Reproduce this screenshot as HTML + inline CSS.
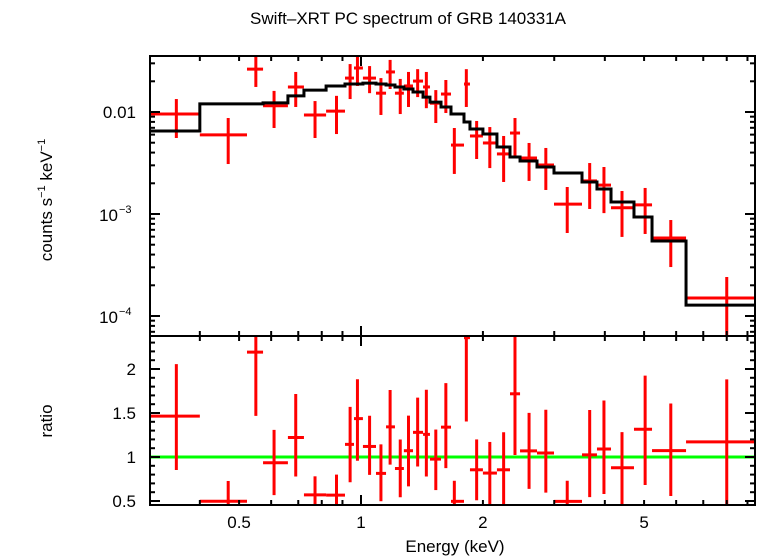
<!DOCTYPE html>
<html><head><meta charset="utf-8"><style>
html,body{margin:0;padding:0;background:#fff;}
svg{display:block;font-family:"Liberation Sans",sans-serif;}
</style></head><body>
<svg id="c" width="758" height="556" xmlns="http://www.w3.org/2000/svg">
<text x="408" y="24" font-size="17" text-anchor="middle">Swift–XRT PC spectrum of GRB 140331A</text>
<text x="455" y="552" font-size="17" text-anchor="middle">Energy (keV)</text>
<text transform="translate(52,200) rotate(-90)" font-size="17" text-anchor="middle">counts s<tspan font-size="11" dy="-7">−1</tspan><tspan dy="7"> keV</tspan><tspan font-size="11" dy="-7">−1</tspan></text>
<text transform="translate(52,421) rotate(-90)" font-size="17" text-anchor="middle">ratio</text>
</svg>
<script>
const edges=[0.298,0.400,0.523,0.573,0.660,0.723,0.820,0.913,0.961,1.011,1.089,1.153,1.213,1.276,1.344,1.423,1.480,1.576,1.668,1.796,1.858,2.000,2.166,2.333,2.470,2.720,2.996,3.513,3.825,4.143,4.721,5.231,6.347,10.0];
const centers=[0.35,0.47,0.55,0.61,0.69,0.77,0.87,0.94,0.98,1.05,1.12,1.18,1.25,1.31,1.38,1.45,1.53,1.62,1.70,1.82,1.93,2.08,2.25,2.40,2.60,2.86,3.23,3.67,3.98,4.41,5.03,5.82,8.0];
const flux=[0.00955,0.00596,0.0263,0.0115,0.0176,0.00935,0.0102,0.0215,0.027,0.0215,0.0153,0.0247,0.0153,0.018,0.0201,0.0176,0.0122,0.0150,0.00474,0.0188,0.00582,0.00497,0.00388,0.00622,0.00354,0.00302,0.00125,0.00211,0.00192,0.00115,0.00123,0.000582,0.00015];
const fluxLo=[0.00556,0.00309,0.0176,0.00697,0.0112,0.00556,0.00608,0.0134,0.018,0.0153,0.00935,0.0168,0.00955,0.0112,0.0140,0.0109,0.0078,0.00978,0.00247,0.0112,0.00346,0.00282,0.00206,0.0037,0.00211,0.00172,0.000651,0.00112,0.00102,0.000596,0.000637,0.000302,0.00003];
const fluxHi=[0.0134,0.00873,0.0354,0.0161,0.0247,0.0128,0.0144,0.0295,0.0354,0.0282,0.0215,0.0324,0.0211,0.0247,0.0263,0.0247,0.0164,0.0206,0.00697,0.0263,0.00817,0.00712,0.00582,0.00873,0.00497,0.00444,0.00184,0.00316,0.00289,0.00168,0.0018,0.000873,0.000241];
const model=[0.00652,0.0120,0.0120,0.0123,0.0144,0.0164,0.018,0.0188,0.0188,0.0192,0.0188,0.0184,0.0176,0.0168,0.0157,0.0140,0.0125,0.0112,0.00955,0.00798,0.00681,0.00608,0.00454,0.00362,0.00331,0.00289,0.00252,0.00206,0.00176,0.00131,0.000935,0.000543,0.000128];
const xLabels=[0.5,1,2,5];
const ratioLabels=[0.5,1,1.5,2];

const NS="http://www.w3.org/2000/svg";
const svg=document.getElementById('c');
const L=150,R=755,T1=56,B1=336,B2=505;
const X=e=>361+405*Math.log10(e);
const Y1=f=>112-102*(Math.log10(f)+2);
const Y2=r=>457-88*(r-1);
function el(tag,attrs,parent){const e=document.createElementNS(NS,tag);for(const k in attrs)e.setAttribute(k,attrs[k]);(parent||svg).appendChild(e);return e;}
const defs=el('defs',{});
const c1=el('clipPath',{id:'cp1'},defs);el('rect',{x:L,y:T1,width:R-L,height:B1-T1},c1);
const c2=el('clipPath',{id:'cp2'},defs);el('rect',{x:L,y:B1,width:R-L,height:B2-B1},c2);
const g1=el('g',{'clip-path':'url(#cp1)'});


const g2=el('g',{'clip-path':'url(#cp2)'});



// unity line
const ul=el('line',{x1:L,x2:R,y1:Y2(1),y2:Y2(1),stroke:'#00ff00','stroke-width':3},g2);



// data
for(let i=0;i<flux.length;i++){
  const x0=X(edges[i]),x1=X(edges[i+1]),xc=X(centers[i]);
  const g=el('g',{stroke:'#ff0000','stroke-width':3},g1);
  
  
  el('line',{x1:x0,x2:x1,y1:Y1(flux[i]),y2:Y1(flux[i])},g);
  el('line',{x1:xc,x2:xc,y1:Y1(fluxLo[i]),y2:Y1(fluxHi[i])},g);
  const r=flux[i]/model[i],rl=fluxLo[i]/model[i],rh=fluxHi[i]/model[i];
  const h=el('g',{stroke:'#ff0000','stroke-width':3},g2);
  
  
  el('line',{x1:x0,x2:x1,y1:Y2(r),y2:Y2(r)},h);
  el('line',{x1:xc,x2:xc,y1:Y2(rl),y2:Y2(rh)},h);
}
// model step
let d='';
for(let i=0;i<model.length;i++){
  const y=Y1(model[i]);
  d+=(i===0?'M':'L')+X(edges[i])+','+y+' L'+X(edges[i+1])+','+y+' ';
}
const mp=el('path',{d:d,fill:'none',stroke:'#000','stroke-width':3},g1);



// frames
const ax=el('g',{stroke:'#000','stroke-width':2,fill:'none'});


el('rect',{x:L,y:T1,width:R-L,height:B2-T1},ax);
el('line',{x1:L,x2:R,y1:B1,y2:B1},ax);
// x ticks
const xt=[];
for(let d0=0.1;d0<=1;d0*=10)for(let k=1;k<10;k++)xt.push(+(k*d0).toFixed(3));
xt.push(10);
xt.forEach(v=>{
  const x=X(v);if(x<=L||x>=R)return;
  const major=[1,10].includes(v);
  const len=major?10:5;
  [[T1,1],[B1,-1],[B1,1],[B2,-1]].forEach(([y,s])=>el('line',{x1:x,x2:x,y1:y,y2:y+s*len},ax));
});
// upper y ticks
for(let p=-5;p<=-1;p++)for(let k=1;k<10;k++){
  const v=k*Math.pow(10,p);const y=Y1(v);if(y<=T1||y>=B1)continue;
  const len=k===1?10:5;
  el('line',{x1:L,x2:L+len,y1:y,y2:y},ax);
  el('line',{x1:R,x2:R-len,y1:y,y2:y},ax);
}
// ratio ticks
for(let i=4;i<=24;i++){
  const v=i/10;const y=Y2(v);if(y<=B1||y>=B2)continue;
  const len=(i%5===0)?10:5;
  el('line',{x1:L,x2:L+len,y1:y,y2:y},ax);
  el('line',{x1:R,x2:R-len,y1:y,y2:y},ax);
}
// labels
xLabels.forEach(v=>{
  const t=el('text',{x:X(v),y:528,'font-size':17,'text-anchor':'middle'});
  t.textContent=String(v);
  
  
});
ratioLabels.forEach(v=>{
  const t=el('text',{x:136,y:Y2(v)+6,'font-size':17,'text-anchor':'end'});
  t.textContent=String(v);
  
  
});
const t0=el('text',{x:136,y:Y1(0.01)+6,'font-size':17,'text-anchor':'end'});
t0.textContent='0.01';


[[-3,0.001],[-4,0.0001]].forEach(([p,v])=>{
  const t=el('text',{x:118,y:Y1(v)+7,'font-size':17,'text-anchor':'end'});
  t.textContent='10';
  
  
  const s=el('text',{x:119,y:Y1(v)-1,'font-size':11,'text-anchor':'start'});
  s.textContent='−'+(-p);
  
  
});
</script>
</body></html>
